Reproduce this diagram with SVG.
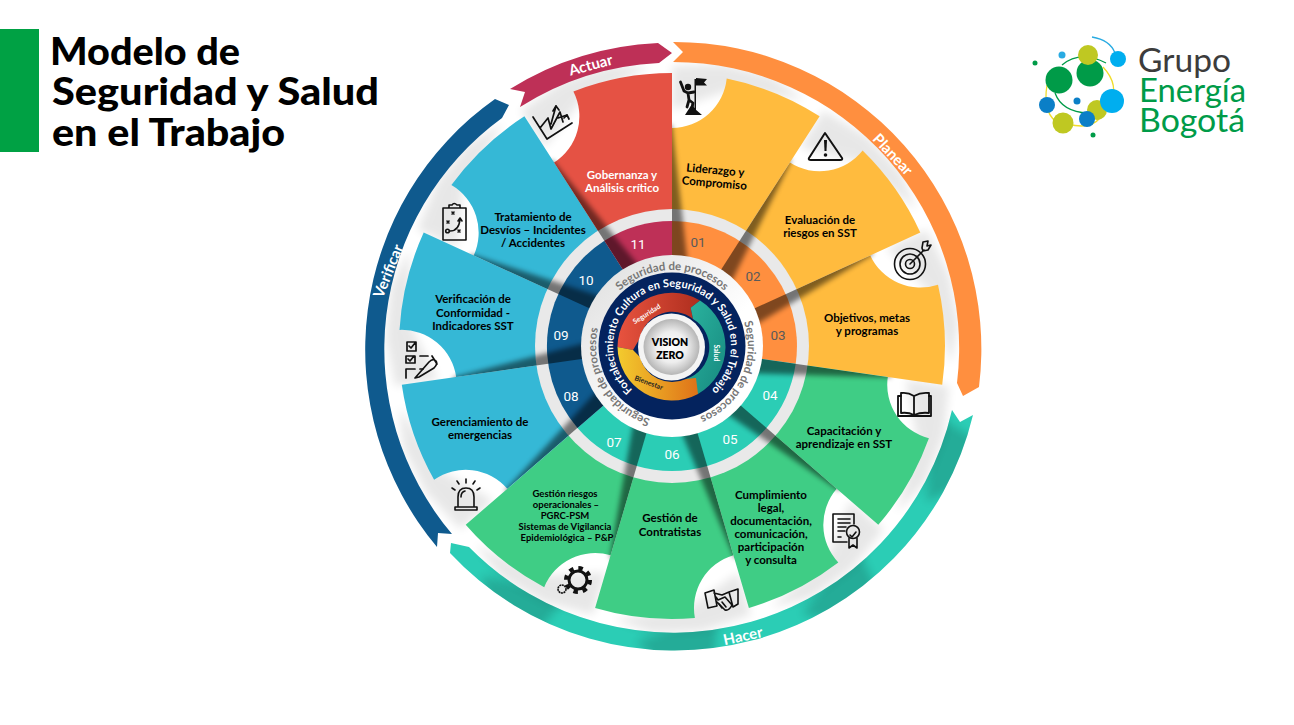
<svg xmlns="http://www.w3.org/2000/svg" width="1294" height="725" viewBox="0 0 1294 725">
<style>
.lb{font-family:"Lato","Liberation Sans",sans-serif;font-weight:700;font-size:11.5px;fill:#000;text-anchor:middle}
.sm{font-size:9.5px}
.wh{fill:#fff}
.bd{font-family:"Lato","Liberation Sans",sans-serif;font-weight:700;font-size:15px;fill:#fff;text-anchor:middle}
.nu{font-family:"Roboto","Liberation Sans",sans-serif;font-size:13.5px;fill:#fff;text-anchor:middle}
.nd{fill:#5a5a5a}
.ti{font-family:"Lato","Liberation Sans",sans-serif;font-weight:900;font-size:37px;fill:#000}
.lg{font-family:"Lato","Liberation Sans",sans-serif;font-weight:400;font-size:33px}
.pr{font-family:"Lato","Liberation Sans",sans-serif;font-weight:700;font-size:11.5px;fill:#777;text-anchor:middle}
.st{fill:none;stroke:#111;stroke-width:1.6;stroke-linejoin:round;stroke-linecap:round}
.fl{fill:#111}
.yl{fill:#FFBB3E}.gr{fill:#3FCD85}.bl{fill:#35B8D6}.rd{fill:#E55244}
</style>
<defs>
<filter id="b3" x="-200%" y="-20%" width="500%" height="140%"><feGaussianBlur stdDeviation="2.500"/></filter>
<filter id="b6" x="-40%" y="-40%" width="180%" height="180%"><feGaussianBlur stdDeviation="5"/></filter>
<clipPath id="cr"><rect x="672" y="60" width="80" height="260"/></clipPath>
<clipPath id="ch"><path d="M973,415 A307 307 0 0 1 450,553 L451,543 L469,547 A286 286 0 0 0 952,410 L960,422 Z"/></clipPath>
<g id="wedge" clip-path="url(#cr)"><polygon points="664,275 689,275 672,125 664,125" fill="#000" opacity=".5" filter="url(#b3)"/></g>
<polygon id="fan" points="672,110 672,66 722.7,64 771.2,76 805,100 730,90" fill="#000" opacity=".09" filter="url(#b6)"/>
<polygon id="fanx" points="705,70 722,30 765,36 790,72 745,74" fill="#000" opacity=".16" filter="url(#b6)"/>
<path id="rs" d="M672,422 A76 76 0 0 1 596,346 A76 76 0 0 1 748,346 A76 76 0 0 1 672,422"/>
<path id="rn" d="M672,405 A59 59 0 0 1 613,346 A59 59 0 0 1 731,346 A59 59 0 0 1 672,405"/>
<radialGradient id="vz"><stop offset="0" stop-color="#fff"/><stop offset=".55" stop-color="#eee"/><stop offset="1" stop-color="#b5b5b5"/></radialGradient>
<linearGradient id="gs" x1="0" y1="0" x2="1" y2="0"><stop offset="0" stop-color="#E8533F"/><stop offset="1" stop-color="#AE2E1E"/></linearGradient>
<linearGradient id="gb" x1="0" y1="0" x2="1" y2="0"><stop offset="0" stop-color="#F3CB2E"/><stop offset="1" stop-color="#DF7218"/></linearGradient>
<linearGradient id="gt" x1="0" y1="0" x2="1" y2="1"><stop offset="0" stop-color="#2BB5A0"/><stop offset="1" stop-color="#17897F"/></linearGradient>
<linearGradient id="gw" x1="0" y1="0" x2="1" y2="1"><stop offset="0" stop-color="#dcdcdc"/><stop offset=".6" stop-color="#fff"/></linearGradient>
</defs>
<rect width="1294" height="725" fill="#fff"/>
<g id="titulo">
<rect x="0" y="29" width="39" height="123" fill="#00A144"/>
<text class="ti" x="50" y="65" textLength="190" lengthAdjust="spacingAndGlyphs">Modelo de</text>
<text class="ti" x="52" y="105" textLength="327" lengthAdjust="spacingAndGlyphs">Seguridad y Salud</text>
<text class="ti" x="52" y="146" textLength="233" lengthAdjust="spacingAndGlyphs">en el Trabajo</text>
</g>
<g id="logo">
<g fill="none" stroke-width="1.3">
<path d="M1092,37 Q1110,40 1115,53" stroke="#29ABE2"/>
<path d="M1062,65 Q1080,50 1106,63" stroke="#009B48"/>
<path d="M1103,67 Q1120,85 1110,105" stroke="#F0DC2A"/>
<path d="M1047,85 Q1042,115 1060,124 M1068,124 Q1090,130 1100,118" stroke="#F0DC2A"/>
<path d="M1055,93 Q1062,112 1088,113" stroke="#009B48"/>
</g>
<circle cx="1035" cy="63" r="2.5" fill="#009B48"/><circle cx="1062" cy="55" r="3.5" fill="#29ABE2"/>
<circle cx="1090" cy="73" r="13.5" fill="#009B48"/><circle cx="1088" cy="55" r="10" fill="#BFC822"/>
<circle cx="1059" cy="80" r="13.5" fill="#009B48"/><circle cx="1118" cy="59" r="8" fill="#00AEEF"/>
<circle cx="1097" cy="110" r="10" fill="#BFC822"/><circle cx="1112" cy="101" r="12" fill="#00AEEF"/>
<circle cx="1047" cy="105" r="8" fill="#0B7FC7"/><circle cx="1063" cy="123" r="10.5" fill="#BFC822"/>
<circle cx="1087" cy="119" r="8" fill="#0B7FC7"/><circle cx="1077" cy="101" r="3.5" fill="#0B7FC7"/>
<circle cx="1093" cy="135" r="2.5" fill="#009B48"/>
<text class="lg" x="1138" y="72" fill="#3c3c3c" textLength="93" lengthAdjust="spacingAndGlyphs">Grupo</text>
<text class="lg" x="1139" y="102" fill="#009B48" textLength="107" lengthAdjust="spacingAndGlyphs">Energía</text>
<text class="lg" x="1139" y="132" fill="#009B48" textLength="106" lengthAdjust="spacingAndGlyphs">Bogotá</text>
</g>
<g id="connectors">
<path id="hacer" fill="#2BCDB5" d="M973,415 A307 307 0 0 1 450,553 L451,543 L469,547 A286 286 0 0 0 952,410 L960,422 Z"/>
<g clip-path="url(#ch)">
<use href="#fanx" transform="rotate(98.182 672 346)"/><use href="#fanx" transform="rotate(130.91 672 346)"/><use href="#fanx" transform="rotate(163.64 672 346)"/><use href="#fanx" transform="rotate(196.36 672 346)"/>
</g>
<g id="sombras-exteriores">
<use href="#fan"/><use href="#fan" transform="rotate(32.727 672 346)"/><use href="#fan" transform="rotate(65.455 672 346)"/><use href="#fan" transform="rotate(98.182 672 346)"/><use href="#fan" transform="rotate(130.91 672 346)"/><use href="#fan" transform="rotate(163.64 672 346)"/><use href="#fan" transform="rotate(196.36 672 346)"/><use href="#fan" transform="rotate(229.09 672 346)"/><use href="#fan" transform="rotate(261.82 672 346)"/><use href="#fan" transform="rotate(294.55 672 346)"/><use href="#fan" transform="rotate(327.27 672 346)"/>
</g>
<path id="planear" fill="#FF8F3F" d="M673,42 A307 307 0 0 1 979,387 L963,396 L957,383 A286 286 0 0 0 673,62 L683,52 Z"/>
<path id="verificar" fill="#0F5A8E" d="M437,547 A307 307 0 0 1 495,99 L509,105 L502,118 A286 286 0 0 0 452,534 L438,533 Z"/>
<path id="actuar" fill="#BE3057" d="M510,89 A307 307 0 0 1 658,43 L672,53 L659,63 A286 286 0 0 0 520,107 L525,92 Z"/>
<text class="bd" transform="translate(889,158) rotate(47)">Planear</text>
<text class="bd" transform="translate(592,70) rotate(-15)">Actuar</text>
<text class="bd" transform="translate(393,273) rotate(-68)">Verificar</text>
<text class="bd" transform="translate(744,641) rotate(-12)">Hacer</text>
</g>
<g id="seg01"><path class="yl" d="M672,346 L672,128 A55 55 0 0 0 726.7,78.5 A273 273 0 0 1 819.6,116.3 Z"/>
<text class="lb" transform="translate(715,174) rotate(5)">Liderazgo y</text><text class="lb" transform="translate(714,187) rotate(5)">Compromiso</text>
<path class="fl" d="M694.5,79 h1.500 v31 h-1.500 Z M696,78 l11,1 -3,3.500 3,3 -11,0 Z M685,115 l7,-11 3,5 7,6 Z"/><circle class="fl" cx="688" cy="87" r="3.200"/><path class="st" style="stroke-width:2.800" d="M680.500,82 L684,91 L688,93 L694,92 M688,93 L689,100 L687,107 M689,100 L693,103 L692,108"/></g>
<g id="seg02"><path class="yl" d="M672,346 L789.9,162.6 A55 55 0 0 0 862.6,150.6 A273 273 0 0 1 920.3,232.6 Z"/>
<text class="lb" x="820" y="224">Evaluación de</text><text class="lb" x="820" y="237">riesgos en SST</text>
<path class="st" style="stroke-width:2" d="M825,133 L842,158 Q843,160 840,160 L811,160 Q808,160 809,158 Z"/><path class="fl" d="M824,140 h3 l-.5,11 h-2 Z"/><circle class="fl" cx="825.500" cy="155" r="1.800"/></g>
<g id="seg03"><path class="yl" d="M672,346 L870.3,255.4 A55 55 0 0 0 938,284.7 A273 273 0 0 1 942.2,384.8 Z"/>
<text class="lb" x="867" y="322">Objetivos, metas</text><text class="lb" x="867" y="335">y programas</text>
<g class="st"><circle cx="910" cy="264" r="15.500"/><circle cx="910" cy="264" r="10"/><circle cx="910" cy="264" r="4.500"/><path d="M910,264 L924,250 M922,248 l1,-6 5,-1 -1,5 4,-1 -3,5 -5,1 Z"/></g></g>
<g id="seg04"><path class="gr" d="M672,346 L887.8,377 A55 55 0 0 0 928.9,438.2 A273 273 0 0 1 878.3,524.8 Z"/>
<text class="lb" x="844" y="435">Capacitación y</text><text class="lb" x="844" y="448">aprendizaje en SST</text>
<g class="st" style="stroke-width:1.8"><path d="M914,396 Q908,392 901,393 V413 Q908,412 914,415 Q921,412 929,413 V393 Q921,392 914,396 V415"/><path d="M901,396 H898 V416 H931 V396 H929"/></g></g>
<g id="seg05"><path class="gr" d="M672,346 L836.7,488.8 A55 55 0 0 0 838.3,562.5 A273 273 0 0 1 748.9,608 Z"/>
<text class="lb" x="771" y="499">Cumplimiento</text><text class="lb" x="771" y="512">legal,</text><text class="lb" x="771" y="525">documentación,</text><text class="lb" x="771" y="538">comunicación,</text><text class="lb" x="771" y="551">participación</text><text class="lb" x="771" y="564">y consulta</text>
<g class="st"><path d="M847,542 H833 V514 H854 V524"/><path d="M838,519 H850 M838,523 H850 M838,527 H846 M838,531 H845 M838,537 H841"/><circle cx="853" cy="532" r="6.500"/><path d="M850,535 l2,2 4,-5 M849,538 v10 l4,-3 4,3 v-10"/></g></g>
<g id="seg06"><path class="gr" d="M672,346 L733.4,555.2 A55 55 0 0 0 694.9,618 A273 273 0 0 1 595.100,608 Z"/>
<text class="lb" x="670" y="522">Gestión de</text><text class="lb" x="670" y="536">Contratistas</text>
<g class="st"><path d="M705,593 L714,590 L717,606 L708,608 Z M738,589 L729,592 L733,607 L738,604 Z M714,593 L722,595 L729,592 M717,602 L725,610 Q729,611 732,605 L725,597 L718,600 L716,597"/><path d="M719,604 l3,4 M722,602 l4,5"/></g></g>
<g id="seg07"><path class="gr" d="M672,346 L610.6,555.2 A55 55 0 0 0 544.2,587.2 A273 273 0 0 1 465.7,524.8 Z"/>
<text class="lb sm" x="565" y="497">Gestión riesgos</text><text class="lb sm" x="566" y="508">operacionales –</text><text class="lb sm" x="565" y="519">PGRC-PSM</text><text class="lb sm" x="565" y="530">Sistemas de Vigilancia</text><text class="lb sm" x="567" y="541">Epidemiológica – P&amp;P</text>
<circle cx="578" cy="580" r="9" fill="none" stroke="#111" stroke-width="3"/><circle cx="578" cy="580" r="12" fill="none" stroke="#111" stroke-width="4" stroke-dasharray="4.500 4.925"/><circle cx="562" cy="589" r="4" fill="none" stroke="#111" stroke-width="1.600" stroke-dasharray="2 .6"/></g>
<g id="seg08"><path class="bl" d="M672,346 L507.3,488.8 A55 55 0 0 0 434.1,479.8 A273 273 0 0 1 401.8,384.8 Z"/>
<text class="lb" x="480" y="426">Gerenciamiento de</text><text class="lb" x="480" y="439">emergencias</text>
<g class="st"><path d="M458,506 V497 Q458,488 466,488 Q474,488 474,497 V506 M455,507 H477 V510 H455 Z M461,497 Q461,492 465,491"/><path d="M466,483 v-4 M455,490 l-3,-2 M477,490 l3,-2 M459,484 l-2,-3 M473,484 l2,-3"/></g></g>
<g id="seg09"><path class="bl" d="M672,346 L456.2,377 A55 55 0 0 0 399.5,329.9 A273 273 0 0 1 423.7,232.6 Z"/>
<text class="lb" x="473" y="303">Verificación de</text><text class="lb" x="473" y="317">Conformidad -</text><text class="lb" x="473" y="330">Indicadores SST</text>
<g class="st" style="stroke-width:1.7"><path d="M407,342 H416 V351 H407 Z M409,346 l2,2 4,-5 M406,356 H415 V363 H406 Z M408,359 l2,2 4,-5 M420,356 H428 M406,378 V369 H415 M420,369 H423"/><path d="M415,378 L429,362 Q433,358 436,361 Q438,364 434,368 L419,377 Z M432,356 L437,364"/></g></g>
<g id="seg10"><path class="bl" d="M672,346 L473.7,255.4 A55 55 0 0 0 451.4,185.1 A273 273 0 0 1 524.4,116.3 Z"/>
<text class="lb" x="533" y="221">Tratamiento de</text><text class="lb" x="533" y="234">Desvíos – Incidentes</text><text class="lb" x="533" y="247">/ Accidentes</text>
<g class="st"><path d="M448,208 H443 V240 H466 V208 H461 M449,208 V205 H452 Q454,202 457,205 H460 V208 Z"/><path d="M452,212 l2,2 M454,212 l-2,2 M447,221 l2,2 M449,221 l-2,2 M458,230 l2,2 M460,230 l-2,2 M450,231 Q459,231 460,219 M458,221 l2,-3 2,3"/><circle cx="447.500" cy="231" r="1.800"/></g></g>
<g id="seg11"><path class="rd" d="M672,346 L554.1,162.6 A55 55 0 0 0 573.4,91.4 A273 273 0 0 1 672,73 Z"/>
<text class="lb wh" x="622" y="179">Gobernanza y</text><text class="lb wh" x="622" y="192">Análisis crítico</text>
<g class="st" style="stroke-width:1.7"><path d="M533,117 L547,139 L572,123 M540,128 L548,118 L551,129 L560,112 L563,122 M551,124 L556,106 M558,118 L567,115"/><path d="M553,111 l3,-5 3,4 M564,118 l3,-3 2,4"/></g></g>
<circle cx="672" cy="346" r="137" fill="#e9e9e9"/>
<g id="anillo-numeros">
<path fill="#FF8F3F" d="M672,346 L672,221 A125 125 0 0 1 795.7,363.8 Z"/>
<path fill="#2BCDB5" d="M672,346 L795.7,363.8 A125 125 0 0 1 577.5,427.9 Z"/>
<path fill="#0F5A8E" d="M672,346 L577.5,427.9 A125 125 0 0 1 604.4,240.8 Z"/>
<path fill="#BE3057" d="M672,346 L604.4,240.8 A125 125 0 0 1 672,221 Z"/>
<text class="nu nd" x="698" y="247">01</text><text class="nu nd" x="753" y="281">02</text><text class="nu nd" x="778" y="340">03</text><text class="nu" x="770" y="400">04</text><text class="nu" x="730" y="444">05</text><text class="nu" x="672" y="459">06</text><text class="nu" x="614" y="447">07</text><text class="nu" x="571" y="401">08</text><text class="nu" x="561" y="340">09</text><text class="nu" x="586" y="285">10</text><text class="nu" x="638" y="249">11</text>
</g>
<g id="sombras-interiores">
<use href="#wedge"/><use href="#wedge" transform="rotate(32.727 672 346)"/><use href="#wedge" transform="rotate(65.455 672 346)"/><use href="#wedge" transform="rotate(98.182 672 346)"/><use href="#wedge" transform="rotate(130.91 672 346)"/><use href="#wedge" transform="rotate(163.64 672 346)"/><use href="#wedge" transform="rotate(196.36 672 346)"/><use href="#wedge" transform="rotate(229.09 672 346)"/><use href="#wedge" transform="rotate(261.82 672 346)"/><use href="#wedge" transform="rotate(294.55 672 346)"/><use href="#wedge" transform="rotate(327.27 672 346)"/>
</g>
<g id="nucleo">
<circle cx="672" cy="346" r="91" fill="url(#gw)"/>
<text class="pr"><textPath href="#rs" startOffset="50%">Seguridad de procesos</textPath></text>
<text class="pr" transform="rotate(115 672 346)"><textPath href="#rs" startOffset="50%">Seguridad de procesos</textPath></text>
<text class="pr" transform="rotate(240 672 346)"><textPath href="#rs" startOffset="50%">Seguridad de procesos</textPath></text>
<circle cx="672" cy="346" r="73.500" fill="#04235E"/>
<text font-family="Lato, Liberation Sans, sans-serif" font-weight="700" font-size="11" fill="#fff" text-anchor="middle"><textPath href="#rn" startOffset="50%">Fortalecimiento Cultura en Seguridad y Salud en el Trabajo</textPath></text>
<g id="seguridad">
<path fill="url(#gs)" d="M617.500,347 A54.500 54.500 0 0 1 700,300.500 L690.700,307.700 L693,319 A33 33 0 0 0 640,338 L633,350 Z"/>
<text font-family="Lato, Liberation Sans, sans-serif" font-weight="700" font-size="7" fill="#fff" text-anchor="middle" transform="translate(648,316) rotate(-32)">Seguridad</text></g>
<g id="salud"><path fill="url(#gt)" d="M700,300.500 A54.500 54.500 0 0 1 698,394 L686,379 A33 33 0 0 0 693,319 L690.700,307.700 Z"/>
<text font-family="Lato, Liberation Sans, sans-serif" font-weight="700" font-size="7" fill="#fff" text-anchor="middle" transform="translate(714,353) rotate(90)">Salud</text></g>
<g id="bienestar"><path fill="url(#gb)" d="M617.500,347 A54.500 54.500 0 0 0 698,394 L696,378 L686,379 A33 33 0 0 1 640,357 L633,350 Z"/>
<text font-family="Lato, Liberation Sans, sans-serif" font-weight="700" font-size="7" fill="#222" text-anchor="middle" transform="translate(648,385) rotate(20)">Bienestar</text></g>
<circle cx="671.500" cy="347" r="33.500" fill="#f4f4f4"/>
<circle cx="671.500" cy="347" r="28" fill="url(#vz)"/>
<text font-family="Lato, Liberation Sans, sans-serif" font-weight="800" font-size="10.500" fill="#000" text-anchor="middle" x="670" y="346">VISION</text>
<text font-family="Lato, Liberation Sans, sans-serif" font-weight="800" font-size="10.500" fill="#000" text-anchor="middle" x="670" y="358.500">ZERO</text>
</g>
</svg>
